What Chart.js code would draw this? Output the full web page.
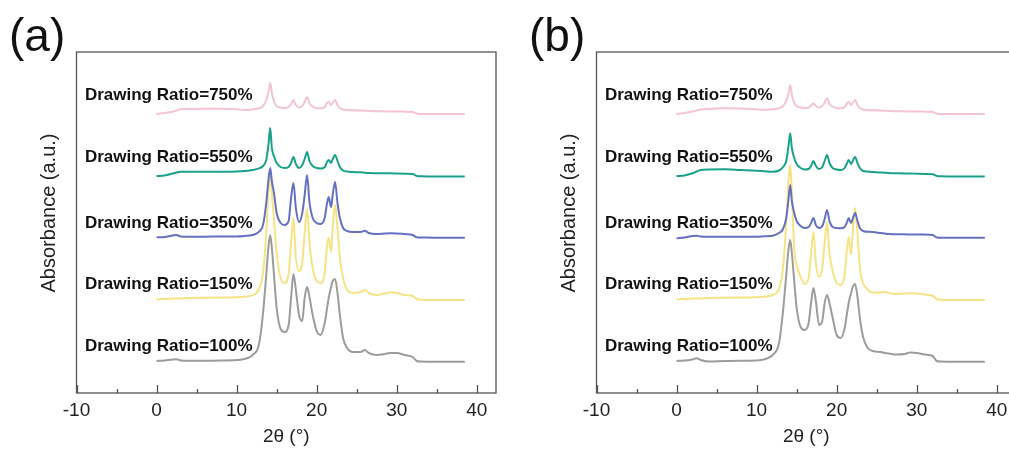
<!DOCTYPE html>
<html><head><meta charset="utf-8">
<script src="https://cdn.jsdelivr.net/npm/chart.js@4.4.1/dist/chart.umd.min.js"></script>
<style>
html,body{margin:0;padding:0;background:#fff;overflow:hidden;width:1009px;height:455px;position:relative;}
.p{position:absolute;top:0;width:520px;height:455px;}
</style></head><body>
<div class="p" style="left:0"><canvas id="ca" width="520" height="455"></canvas></div>
<div class="p" style="left:520px"><canvas id="cb" width="520" height="455"></canvas></div>
<script>
// ---- data ----
const twoTheta = [0,1,2,2.5,3,4,6,8,10,11, 12,12.8,13.3,13.7,14.0,14.2,14.4,14.7,15.0,15.5, 16.0,16.5,16.8,17.1,17.4,17.8,18.2,18.5,18.8,19.1, 19.5,20.0,20.5,21.0,21.3,21.5,21.8,22.0,22.3,22.6, 22.9,23.3,23.8,24.5,25.5,26.0,26.5,27.5,28.5,29.2, 30,31,32,32.5,33,35,38.5];
const seriesNames = ['Drawing Ratio=750%','Drawing Ratio=550%','Drawing Ratio=350%','Drawing Ratio=150%','Drawing Ratio=100%'];
const xTicks = [-10,0,10,20,30,40];
const xMinorTicks = [-5,5,15,25,35];

// panel (a): absorbance (a.u., offset-stacked)
const a750 = [279,280,281.3,282.5,283.7,284,284.3,284.3,283.7,283, 283.7,284.7,287,293,302,310,300,291,287,285.5, 285,286,289,293,288,285.5,287,291,296,290, 286.5,285,284.7,286,290,291,288,290,293,288, 285,283.5,283,282.7,282.5,282.3,282,281.8,281.7,281.5, 281.5,281.3,281,279.5,279,279,279];
const a550 = [217,217.5,219.5,220.5,221.3,221.3,221.3,221.3,221.5,222, 223,224.7,227,233,250,265,245,236,230,226, 225,226,230,236,229,225,228,234,241,232, 227,225,224.5,226,231,233,230,234,238,232, 226,222.5,221.5,221,220.7,220.3,220,219.8,219.7,219.7, 219.5,219.3,219,217,216.7,216.5,216.5];
const a350 = [155.7,156,157.5,158,156.5,156.3,156.3,156.5,156.5,157, 158,161.3,168,190,215,225,212,198,180,170, 168,172,195,210,185,171,180,198,218,191, 175,170,169,175,190,196,186,198,211,190, 175,165,162,161,161,162.3,160,159,159.5,159.7, 159.5,159,158,155.7,155.5,155.3,155.3];
const a150 = [93.7,94,94.5,94.7,94.5,95,95.3,95.5,95.7,96.3, 98,104,120,160,205,220,200,170,140,115, 110,120,150,175,135,122,130,160,184,150, 125,112,110,120,148,155,141,165,188,165, 135,115,103,100,101,103,100,98,99.5,100.7, 100,98,97,94,93.3,93,93];
const a100 = [32,32.5,33.5,33.7,32.5,32.3,32.3,32.5,33,34, 38,49,80,118,148,158,145,115,85,64, 61,68,95,119,103,78,72,95,106,96, 78,62,58,70,85,95,106,112,114,100, 78,55,45,41,41,43,40,38,39,40, 40,38,36,32,31.5,31.3,31.3];

// panel (b)
const b750 = [279,280,281.5,282.5,283.5,284,284.7,284.5,283.7,283.3, 283.7,284.7,287,292,300,308,298,290,287,285.5, 285,285.5,287.5,289.7,287,285.5,287,290.5,294.7,289, 286.5,285,284.7,286,289.5,291,288,290,293,288, 285,283.5,283,282.7,282.5,282.3,282,281.8,281.7,281.5, 281.5,281.3,281,279.5,279,279,279];
const b550 = [217,217.5,219.7,221.5,223,223.5,223.7,223,222.3,221.8, 221.3,222.5,226,232,248,259.7,245,235,229,225, 223.5,224,227,232,227,224,226,232,238,230, 225,223.5,223,225,230,233,229,232,236,230, 225,222,221.5,221,220.5,220.3,220,219.7,219.5,219.5, 219.3,219,218.7,217,216.7,216.5,216.5];
const b350 = [154.7,155.5,157,157.3,156.5,156.3,156.3,156.3,156.3,156.8, 157.3,160,164,175,195,208,192,180,172,167, 165,166,170,175,168,165,167,174,183,172, 166,165,164.7,166,171,175,170,174,180,172, 165,162,161.3,161,160,159.5,159,158.7,158.7,158.5, 158.5,158.5,158,155.5,155.3,155.3,155.3];
const b150 = [93.7,94,94.5,94.7,94.5,95,95.3,95.5,95.7,96.3, 98,104,125,170,215,228,200,145,128,116, 109,115,140,161,130,116,125,150,171,140, 122,110,108,118,145,156,138,160,185,160, 125,110,104,100.5,100.5,101.3,100,99,99.5,99.7, 99.5,98.5,97,94,93.3,93,93];
const b100 = [32,32.5,33.5,34.7,33,31.5,32,32.3,32.5,33.7, 38,50,82,118,145,153,140,112,85,66, 63,70,90,105,92,68,72,90,98,90, 75,58,55,65,80,90,100,106,109,96, 75,56,46,42,41,40,39.5,38.5,39,40.5, 40,38.5,37,32,31.5,31.3,31.3];

// ---- styles ----
const colors = ['#f3c4d4','#1aa189','#6670c2','#f5e385','#9c9c9c'];
const FONT = '"Liberation Sans", Arial, Helvetica, sans-serif';
const yTitle = 'Absorbance (a.u.)';

const framePlugin = {
  id: 'frameDeco',
  afterDraw(chart, args, opts) {
    const ctx = chart.ctx;
    const {left, top, right, bottom} = chart.chartArea;
    const x = chart.scales.x, y = chart.scales.y;
    ctx.save();
    ctx.strokeStyle = '#555';
    ctx.lineWidth = 1.3;
    ctx.strokeRect(left, top, right - left, bottom - top);
    ctx.beginPath();
    xTicks.forEach(v => { const p = Math.round(x.getPixelForValue(v)) + 0.5; ctx.moveTo(p, bottom); ctx.lineTo(p, bottom - 8); });
    xMinorTicks.forEach(v => { const p = Math.round(x.getPixelForValue(v)) + 0.5; ctx.moveTo(p, bottom); ctx.lineTo(p, bottom - 4); });
    ctx.stroke();
    ctx.fillStyle = '#111';
    ctx.font = 'bold 17px ' + FONT;
    ctx.textAlign = 'right';
    ctx.textBaseline = 'middle';
    seriesNames.forEach((t, i) => ctx.fillText(t, x.getPixelForValue(opts.labelX), y.getPixelForValue(opts.labelY[i])));
    // y-axis title
    ctx.save();
    ctx.translate(49, 213);
    ctx.rotate(-Math.PI / 2);
    ctx.textAlign = 'center';
    ctx.fillStyle = '#222';
    ctx.font = '20px ' + FONT;
    ctx.fillText(yTitle, 0, 0);
    ctx.restore();
    ctx.font = '46px ' + FONT;
    ctx.textAlign = 'left';
    ctx.textBaseline = 'alphabetic';
    ctx.fillStyle = '#111';
    ctx.fillText(opts.letter, 9, 51);
    ctx.restore();
  }
};

function makeChart(id, letter, series) {
  const datasets = series.map((arr, i) => ({
    label: seriesNames[i],
    data: twoTheta.map((t, k) => ({x: t, y: arr[k]})),
    borderColor: colors[i],
    borderWidth: 2,
    pointRadius: 0,
    fill: false,
    cubicInterpolationMode: 'monotone'
  }));
  return new Chart(document.getElementById(id), {
    type: 'line',
    data: {datasets},
    options: {
      responsive: false,
      animation: false,
      devicePixelRatio: 1,
      layout: {padding: {top: 52, right: 24, bottom: 0, left: 0}},
      plugins: {
        legend: {display: false},
        tooltip: {enabled: false},
        frameDeco: {letter, labelX: 12, labelY: [298, 235.5, 170, 109, 46.5]}
      },
      scales: {
        x: {
          type: 'linear', min: -10, max: 42.4,
          afterBuildTicks: s => { s.ticks = xTicks.map(v => ({value: v})); },
          afterFit: s => { s.height = 62; },
          grid: {display: false, drawTicks: false},
          border: {display: false},
          ticks: {color: '#222', font: {family: FONT, size: 19}, padding: 6, maxRotation: 0},
          title: {display: true, text: '2θ (°)', color: '#222', font: {family: FONT, size: 19}, padding: {top: 0, bottom: 7}}
        },
        y: {
          type: 'linear', min: 0, max: 341,
          afterFit: s => { s.width = 76.5; },
          grid: {display: false, drawTicks: false},
          border: {display: false},
          ticks: {display: false},
          title: {display: false}
        }
      }
    },
    plugins: [framePlugin]
  });
}

makeChart('ca', '(a)', [a750, a550, a350, a150, a100]);
makeChart('cb', '(b)', [b750, b550, b350, b150, b100]);
</script>
</body></html>
